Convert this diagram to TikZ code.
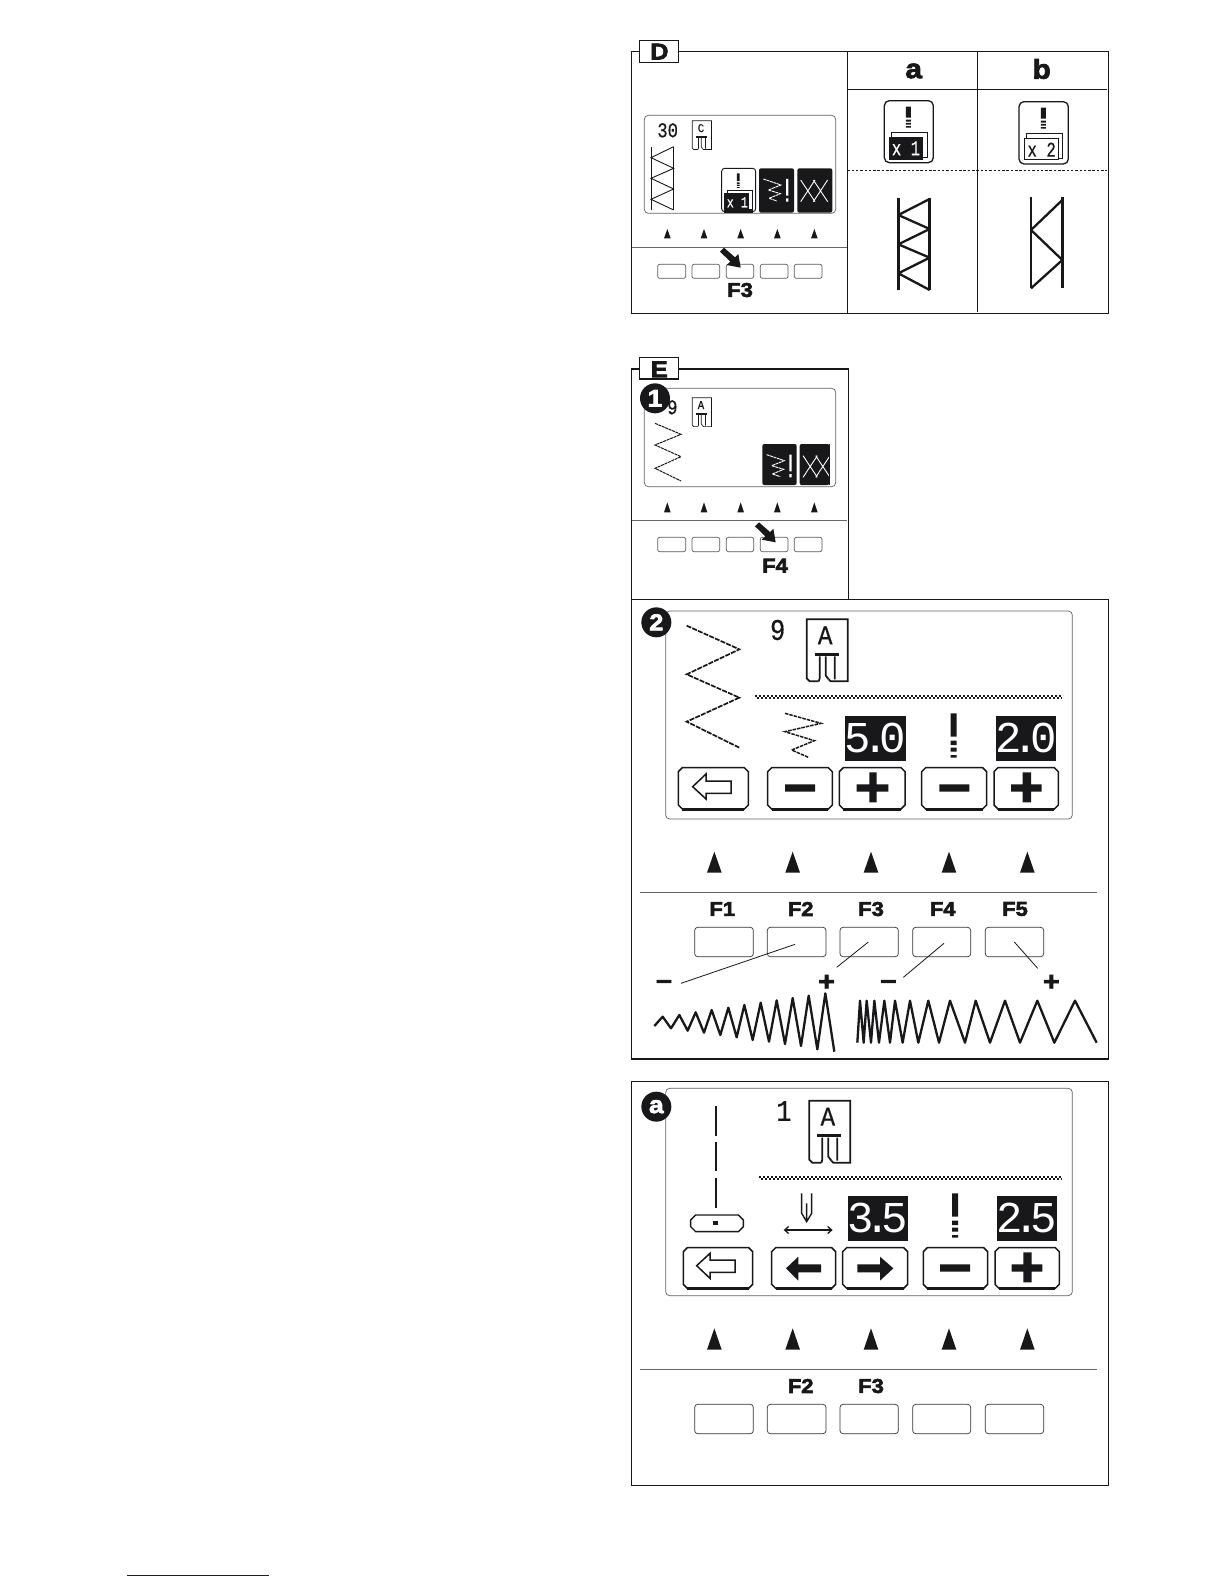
\documentclass[tikz,border=0pt]{standalone}
\usepackage{fontspec}
\usetikzlibrary{arrows.meta}
\newfontfamily\heavyfont[FakeBold=3,FakeStretch=1.1]{Liberation Sans Bold}
\newfontfamily\lcdfont[FakeBold=.5]{Liberation Mono}
\newfontfamily\lcdthin{Liberation Mono}
\newcommand{\hv}[1]{\heavyfont\fontsize{#1}{#1}\selectfont}
\newcommand{\lc}[1]{\lcdfont\fontsize{#1}{#1}\selectfont}
\newcommand{\lcdval}[2]{\lcdthin\fontsize{44}{44}\selectfont#1\kern-9pt.\kern-9pt#2}
\definecolor{ink}{RGB}{24,24,26}
\definecolor{navyline}{RGB}{20,20,130}
\tikzset{
  panel/.style={draw=ink,line width=1.4pt},
  tab/.style={draw=ink,line width=1.4pt,fill=white},
  screen/.style={draw=black!62,line width=.7pt,rounded corners=4pt},
  rule/.style={draw=black!60,line width=.8pt},
  keysmall/.style={draw=black!65,line width=.7pt,rounded corners=2pt},
  keylarge/.style={draw=black!80,line width=.7pt,rounded corners=3pt},
  lcdline/.style={draw=ink,line width=1.5pt,line join=miter},
  stitchdash/.style={draw=ink,line width=1.7pt,dash pattern=on 5pt off 1.2pt},
  stitchsolid/.style={draw=ink,line width=2.3pt,line join=round},
  whitestitch/.style={draw=white,line width=.9pt},
  label/.style={inner sep=0pt,text=ink},
  lcdtext/.style={inner sep=0pt,text=ink},
  lcdwhite/.style={inner sep=0pt,text=white},
  badge/.style={circle,fill=ink,text=white,inner sep=0pt,minimum size=30pt},
  leader/.style={draw=ink,line width=.8pt}
}
\newcommand{\ftri}[4]{\fill[ink] (#1-#4,#3) -- (#1,#2) -- (#1+#4,#3) -- cycle;}
\newcommand{\smallkeys}[2]{\foreach \a/\b in {98/182,201/284,304/386,406/489,508/591}{\draw[keysmall] (\a,#1) rectangle (\b,#2);}}
\newcommand{\smalltris}[2]{\foreach \a in {127,237,347,457,568}{\ftri{\a}{#1}{#2}{10}}}
\newcommand{\bigtris}[2]{\foreach \a in {268,503,738,972,1207}{\ftri{\a}{#1}{#2}{22}}}
\newcommand{\bigkeys}[2]{\foreach \a/\b in {209/385,427/603,645/820,863/1037,1081/1256}{\draw[keylarge] (\a,#1) rectangle (\b,#2);}}
\newcommand{\lcdkey}[4]{\draw[lcdline] (#1+12,#2) -- (#3-12,#2) -- (#3,#2+12) -- (#3,#4-12) -- (#3-12,#4) -- (#1+12,#4) -- (#1,#4-12) -- (#1,#2+12) -- cycle;
  \draw[ink,line width=3pt] (#1+12,#4) -- (#3-12,#4);}
\newcommand{\bangm}[4]{\begin{scope}[shift={(#1,#2)},xscale=#3,yscale=#4]
  \fill[ink] (-9,0) rectangle (9,70) (-9,82) rectangle (9,95) (-9,103) rectangle (9,115) (-9,125) rectangle (9,133);
  \end{scope}}
% foot icon: local coordinates are px of the big icon (41 x 62)
\newcommand{\footicon}[7]{\begin{scope}[shift={(#1,#2)},scale=#3,line width=#5]
  \draw[ink] (12,62) -- (3,62) -- (0,59) -- (0,0) -- (41,0) -- (41,62) -- (24,62) -- (22,60);
  \draw[ink,line width=1.8*#5] (8,35) -- (32,35);
  \draw[ink] (13,37) -- (13,59) -- (12,62) (19,37) -- (19,56) -- (22,60) (28,37) -- (28,60);
  \node (#6) [lcdtext,xscale=.9] at (18.5,16) {\lc{#4}#7};
  \end{scope}}
\newcommand{\zigicon}{\draw[whitestitch,dash pattern=on 3pt off .6pt] (415,432) -- (468,450) -- (430,465) -- (466,476) -- (432,490) -- (456,498);
  \fill[white] (483,432) rectangle (490,482) (483,490) rectangle (490,500);}
\newcommand{\xxicon}{\draw[whitestitch] (527,435) -- (570,500) (570,435) -- (527,500) (565,435) -- (608,500) (608,435) -- (565,500);}
\newcommand{\pointer}{\fill[ink] (297,638) -- (330,667) -- (340,657) -- (347,698) -- (305,690) -- (316,680) -- (285,650) -- cycle;}
\begin{document}
\begin{tikzpicture}[x=1pt,y=-1pt]
\useasboundingbox (0,0) rectangle (1224,1584);
\fill[white] (0,0) rectangle (1224,1584);
% ============ Panel D
\begin{scope}[shift={(625,35)},scale=.33333]
  \draw[panel] (20,50) rectangle (1450,835);
  \draw[tab] (44,16) rectangle (160,82);
  \node (dtab) [label] at (103,50) {\hv{23}D};
  \draw[ink,line width=1pt] (667,50) -- (667,835) (1057,50) -- (1057,830) (667,163) -- (1447,163);
  \draw[ink,line width=.8pt,dash pattern=on 2.5pt off 1.8pt] (667,406) -- (1447,406);
  \node (dcola) [label] at (866,108) {\hv{27}a};
  \node (dcolb) [label] at (1250,102) {\hv{27}b};
  % column a icon
  \draw[ink,line width=1.3pt,rounded corners=5pt] (778,197) rectangle (925,383);
  \bangm{850}{215}{.85}{.47}
  \draw[ink,line width=1pt] (800,292) rectangle (908,368);
  \fill[ink] (792,305) rectangle (895,375);
  \node (xa) [lcdwhite,xscale=.75] at (843,340) {\lc{21}x 1};
  % column b icon
  \draw[ink,line width=1.3pt,rounded corners=5pt] (1182,200) rectangle (1330,387);
  \bangm{1255}{218}{.85}{.47}
  \draw[ink,line width=1pt] (1205,297) rectangle (1312,370);
  \draw[ink,fill=white,line width=1pt] (1198,310) rectangle (1300,375);
  \node (xb) [lcdtext,xscale=.75] at (1250,344) {\lc{21}x 2};
  % stitches a, b
  \draw[ink,line width=2.6pt] (820,490) -- (820,765) (914,490) -- (914,765);
  \draw[stitchsolid] (914,492) -- (820,540) -- (914,582) -- (820,628) -- (914,668) -- (820,715) -- (914,765);
  \draw[ink,line width=2.6pt] (1218,487) -- (1218,760) (1312,487) -- (1312,760);
  \draw[stitchsolid] (1312,495) -- (1218,585) -- (1312,675) -- (1218,760);
  % screen
  \draw[screen] (58,241) rectangle (632,535);
  \node (d30) [lcdtext,xscale=.82] at (128,286) {\lc{21}30};
  \footicon{202}{257}{1.4}{12}{.7pt}{dfoot}{C}
  \draw[ink,line width=1pt] (78,335) -- (78,525) (146,335) -- (146,525);
  \draw[ink,line width=.9pt] (146,335) -- (78,368) -- (146,400) -- (78,430) -- (146,462) -- (78,493) -- (146,525);
  \draw[ink,line width=.9pt,rounded corners=3pt] (290,400) rectangle (392,530);
  \bangm{340}{415}{.45}{.33}
  \draw[ink,line width=.6pt] (308,465) rectangle (382,522);
  \fill[ink] (298,475) rectangle (372,525);
  \fill[ink] (298,525) rectangle (385,535);
  \node (xd) [lcdwhite,xscale=.78] at (337,502) {\lc{15}x 1};
  \fill[ink,rounded corners=2pt] (402,400) rectangle (507,533);
  \fill[ink,rounded corners=2pt] (517,400) rectangle (622,533);
  \zigicon
  \xxicon
  \smalltris{582}{610}
  \draw[rule] (20,637) -- (667,637);
  \smallkeys{688}{730}
  \pointer
  \node (df3) [label] at (345,765) {\hv{20}F3};
\end{scope}
% ============ Panel E (1)
\begin{scope}[shift={(625,355)},scale=.33333]
  \draw[panel] (20,735) -- (20,42) -- (670,42) -- (670,735);
  \draw[tab] (44,8) rectangle (160,72);
  \node (etab) [label] at (103,43) {\hv{23}E};
  \draw[screen] (58,100) rectangle (632,395);
  \node (e9) [lcdtext,xscale=.82] at (142,157) {\lc{21}9};
  \node (ebadge) [badge] at (90,130) {\hv{24}1};
  \footicon{202}{128}{1.4}{12}{.7pt}{efoot}{A}
  \draw[ink,line width=1pt,dash pattern=on 3pt off .7pt] (90,205) -- (168,238) -- (90,270) -- (168,305) -- (90,340) -- (168,378);
  \fill[ink,rounded corners=2pt] (412,267) rectangle (515,390);
  \fill[ink,rounded corners=2pt] (524,267) rectangle (613,390);
  \begin{scope}[shift={(10,-133)}]\zigicon\end{scope}
  \begin{scope}[shift={(7,-133)}]\xxicon\end{scope}
  \fill[ink] (613,267) rectangle (616,390);
  \smalltris{442}{472}
  \draw[rule] (20,497) -- (667,497);
  \smallkeys{547}{590}
  \begin{scope}[shift={(105,-136)}]\pointer\end{scope}
  \node (ef4) [label] at (450,632) {\hv{20}F4};
\end{scope}
% ============ Panel E (2) upper
\begin{scope}[shift={(625,595)},scale=.33333]
  \draw[panel,line width=1.2pt] (20,13) -- (1450,13) -- (1450,1392) -- (20,1392) -- cycle;
  \draw[screen] (122,48) rectangle (1342,672);
  \node (tbadge) [badge] at (94,82) {\hv{23}2};
  \draw[stitchdash] (185,92) -- (343,163) -- (185,238) -- (343,308) -- (185,380) -- (343,458);
  \node (t9) [lcdtext,xscale=.85] at (458,105) {\lc{30}9};
  \footicon{545}{73}{3}{27}{1.8pt}{tfoot}{A}
  \draw[ink,line width=2pt,dash pattern=on 2pt off 2pt] (390,302) -- (1312,302);
  \draw[ink,line width=2pt,dash pattern=on 2pt off 2pt,dash phase=2pt] (390,308) -- (1312,308);
  \draw[stitchdash,line width=1.5pt,dash pattern=on 3.5pt off 1pt] (480,355) -- (588,385) -- (480,410) -- (568,437) -- (500,465) -- (550,487);
  \fill[ink] (660,363) rectangle (843,497);
  \node (t50) [lcdwhite] at (751,430) {\lcdval{5}{0}};
  \bangm{986}{355}{1}{1}
  \fill[ink] (1113,363) rectangle (1293,497);
  \node (t20) [lcdwhite] at (1203,430) {\lcdval{2}{0}};
  \lcdkey{160}{518}{370}{642}
  \lcdkey{428}{518}{622}{642}
  \lcdkey{643}{518}{840}{642}
  \lcdkey{890}{518}{1085}{642}
  \lcdkey{1107}{518}{1300}{642}
  \draw[lcdline] (203,575) -- (243,537) -- (243,558) -- (318,558) -- (318,595) -- (243,595) -- (243,612) -- cycle;
  \fill[ink] (480,568) rectangle (570,590) (943,568) rectangle (1033,590)
     (695,568) rectangle (790,590) (733,532) rectangle (755,622)
     (1158,568) rectangle (1250,590) (1193,532) rectangle (1218,622);
\end{scope}
% ============ Panel E (2) lower
\begin{scope}[shift={(625,840)},scale=.33333]
  \bigtris{35}{98}
  \draw[rule] (45,157) -- (1415,157);
  \foreach \a/\b in {292/F1,527/F2,738/F3,953/F4,1170/F5}{\node (t\b) [label] at (\a,207) {\hv{20}\b};}
  \bigkeys{262}{350}
  \node (tm1) [label] at (117,433) {\hv{26}–};
  \node (tp1) [label] at (605,428) {\hv{26}+};
  \node (tm2) [label] at (790,433) {\hv{26}–};
  \node (tp2) [label] at (1279,428) {\hv{26}+};
  \coordinate (l2a) at (510,313); \coordinate (l2b) at (168,430);
  \coordinate (l3a) at (730,306); \coordinate (l3b) at (635,382);
  \coordinate (l4a) at (957,310); \coordinate (l4b) at (835,412);
  \coordinate (l5a) at (1168,306); \coordinate (l5b) at (1238,385);
  \draw[leader] (l2a) -- (l2b);
  \draw[leader] (l3a) -- (l3b);
  \draw[leader] (l4a) -- (l4b);
  \draw[leader] (l5a) -- (l5b);
  \draw[stitchsolid] (88,558) -- (113,530) -- (138,565) -- (163,525) -- (188,572) -- (212,517) -- (237,578) -- (260,510) -- (286,585) -- (310,503) -- (335,592) -- (358,495) -- (383,600) -- (407,488) -- (432,605) -- (455,481) -- (480,612) -- (503,474) -- (528,618) -- (551,467) -- (577,628) -- (601,460) -- (628,635);
  \draw[stitchsolid] (697,608) -- (705,482) -- (716,608) -- (725,482) -- (738,608) -- (748,482) -- (762,608) -- (778,482) -- (795,608) -- (810,482) -- (833,608) -- (855,482) -- (880,608) -- (910,482) -- (942,608) -- (975,482) -- (1020,608) -- (1052,482) -- (1095,608) -- (1140,482) -- (1185,608) -- (1237,482) -- (1288,608) -- (1350,482) -- (1415,608);
\end{scope}
% ============ Panel a upper
\begin{scope}[shift={(625,1075)},scale=.33333]
  \draw[panel,line width=1.4pt] (20,20) -- (1450,20) -- (1450,1232) -- (20,1232) -- cycle;
  \draw[screen] (122,40) rectangle (1342,662);
  \node (abadge) [badge] at (94,95) {\hv{24}a};
  \draw[ink,line width=1.9pt] (272,93) -- (272,183) (272,200) -- (272,288) (272,308) -- (272,398);
  \draw[lcdline,line width=1.4pt] (212,420) -- (340,420) -- (355,435) -- (355,455) -- (340,470) -- (212,470) -- (197,455) -- (197,435) -- cycle;
  \fill[ink] (265,437) rectangle (280,450);
  \node (a1) [lcdtext,xscale=.85] at (477,108) {\lc{30}1};
  \footicon{553}{77}{3}{27}{1.8pt}{afoot}{A}
  \draw[ink,line width=2pt,dash pattern=on 2pt off 2pt] (403,305) -- (1312,305);
  \draw[ink,line width=2pt,dash pattern=on 2pt off 2pt,dash phase=2pt] (403,311) -- (1312,311);
  \draw[ink,line width=1.4pt] (530,355) -- (530,415) -- (545,440) -- (560,415) -- (560,355) (545,385) -- (545,440);
  \draw[ink,line width=1.3pt,{Straight Barb[length=4pt,width=7pt]}-{Straight Barb[length=4pt,width=7pt]}] (476,465) -- (623,465);
  \fill[ink] (668,363) rectangle (848,497);
  \node (a35) [lcdwhite] at (758,430) {\lcdval{3}{5}};
  \bangm{990}{355}{1}{1}
  \fill[ink] (1115,363) rectangle (1295,497);
  \node (a25) [lcdwhite] at (1205,430) {\lcdval{2}{5}};
  \lcdkey{175}{518}{383}{640}
  \lcdkey{440}{518}{632}{640}
  \lcdkey{653}{518}{848}{640}
  \lcdkey{895}{518}{1088}{640}
  \lcdkey{1110}{518}{1303}{640}
  \draw[lcdline] (215,572) -- (255,535) -- (255,555) -- (330,555) -- (330,592) -- (255,592) -- (255,610) -- cycle;
  \fill[ink] (483,580) -- (520,545) -- (520,568) -- (588,568) -- (588,592) -- (520,592) -- (520,617) -- cycle;
  \fill[ink] (805,580) -- (765,545) -- (765,568) -- (697,568) -- (697,592) -- (765,592) -- (765,617) -- cycle;
  \fill[ink] (945,568) rectangle (1035,590) (1160,568) rectangle (1252,590) (1195,532) rectangle (1220,622);
\end{scope}
% ============ Panel a lower
\begin{scope}[shift={(625,1315)},scale=.33333]
  \bigtris{40}{104}
  \draw[rule] (45,163) -- (1415,163);
  \node (af2) [label] at (527,213) {\hv{20}F2};
  \node (af3) [label] at (738,213) {\hv{20}F3};
  \bigkeys{268}{356}
\end{scope}
\draw[navyline,line width=1pt] (127,1575) -- (269,1575);
\end{tikzpicture}
\end{document}
